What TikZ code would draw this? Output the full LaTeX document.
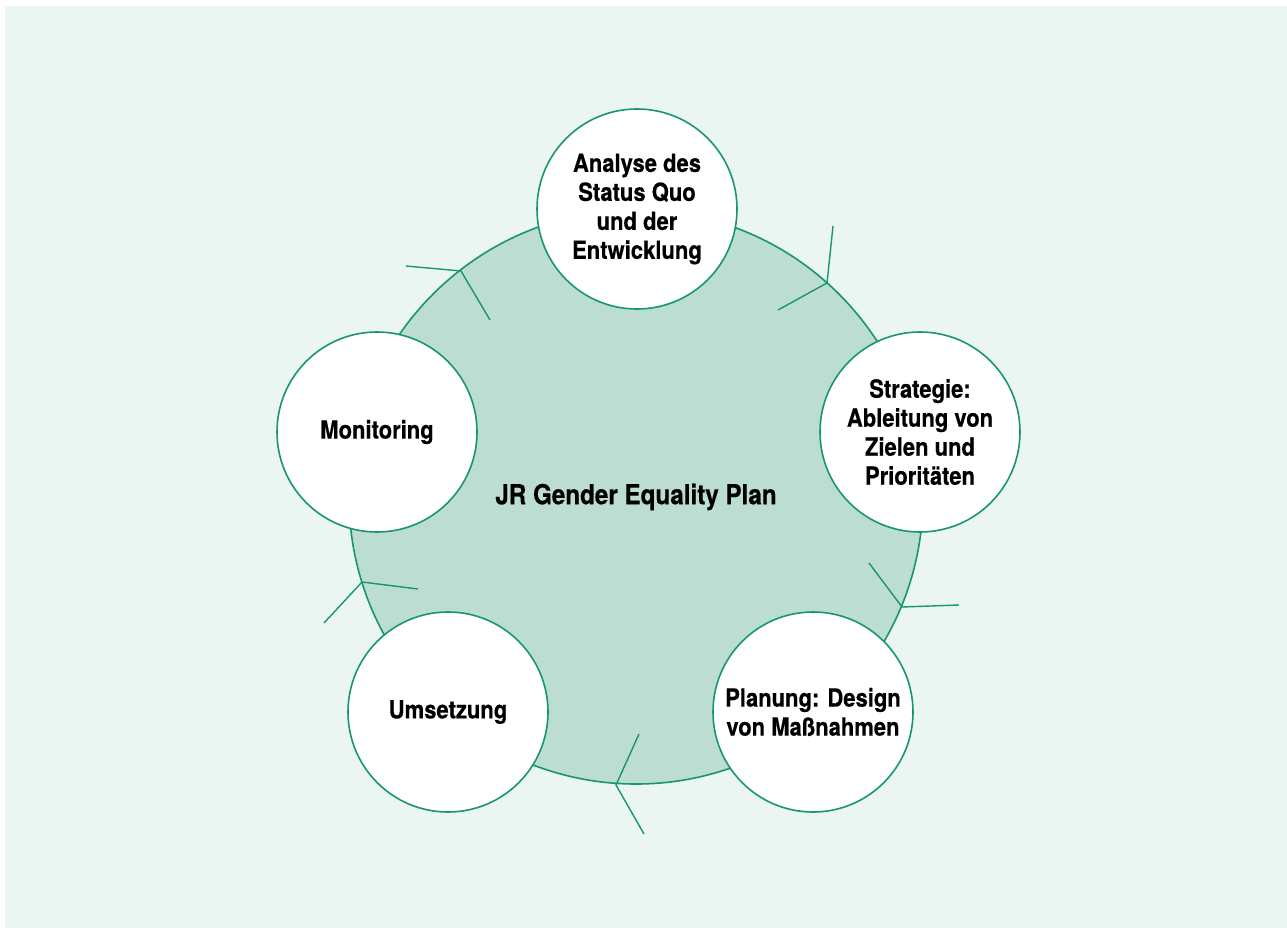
\documentclass[tikz,border=0pt]{standalone}
\usepackage{fontspec}
\setmainfont{TeX Gyre Heros}[FakeStretch=0.88, BoldFeatures={FakeBold=0.4}]
\usepackage{tikz}

\definecolor{planbg}{RGB}{235,245,241}
\definecolor{planfill}{RGB}{187,221,210}
\definecolor{plangreen}{RGB}{24,150,110}

\tikzset{
  phase/.style={circle, draw=plangreen, line width=1.6pt, fill=white,
    minimum size=200pt, inner sep=0pt, align=center,
    font=\fontsize{25}{29}\selectfont\bfseries},
  tick/.style={draw=plangreen, line width=1.4pt}
}

\begin{document}
\begin{tikzpicture}[x=1pt,y=-1pt]
\useasboundingbox (0,0) rectangle (1287,928);
\fill[white] (0,0) rectangle (1287,928);
\fill[planbg] (5,6) rectangle (1287,928);

% cycle
\node[circle, draw=plangreen, line width=1.6pt, fill=planfill, minimum size=574pt,
  inner sep=0pt, font=\fontsize{27.5}{32}\selectfont\bfseries] (plan) at (636,497) {JR Gender Equality Plan};

% marks on the cycle
\draw[tick] (833,226) -- (827,283) -- (778,310);
\draw[tick] (959,605) -- (902,607) -- (869,563);
\draw[tick] (644,834) -- (616,785) -- (639,734);
\draw[tick] (324,623) -- (362,582) -- (418,589);
\draw[tick] (406,266) -- (461,271) -- (490,320);

% phases
\node[phase] (analyse) at (637,209) {Analyse des\\Status Quo\\und der\\Entwicklung};
\node[phase] (strategie) at (920,432) {Strategie:\\Ableitung von\\Zielen und\\Prioritäten};
\node[phase] (planung) at (813,712) {Planung: Design\\von Maßnahmen};
\node[phase] (umsetzung) at (448,712) {Umsetzung};
\node[phase] (monitoring) at (377,432) {Monitoring};

\end{tikzpicture}
\end{document}
